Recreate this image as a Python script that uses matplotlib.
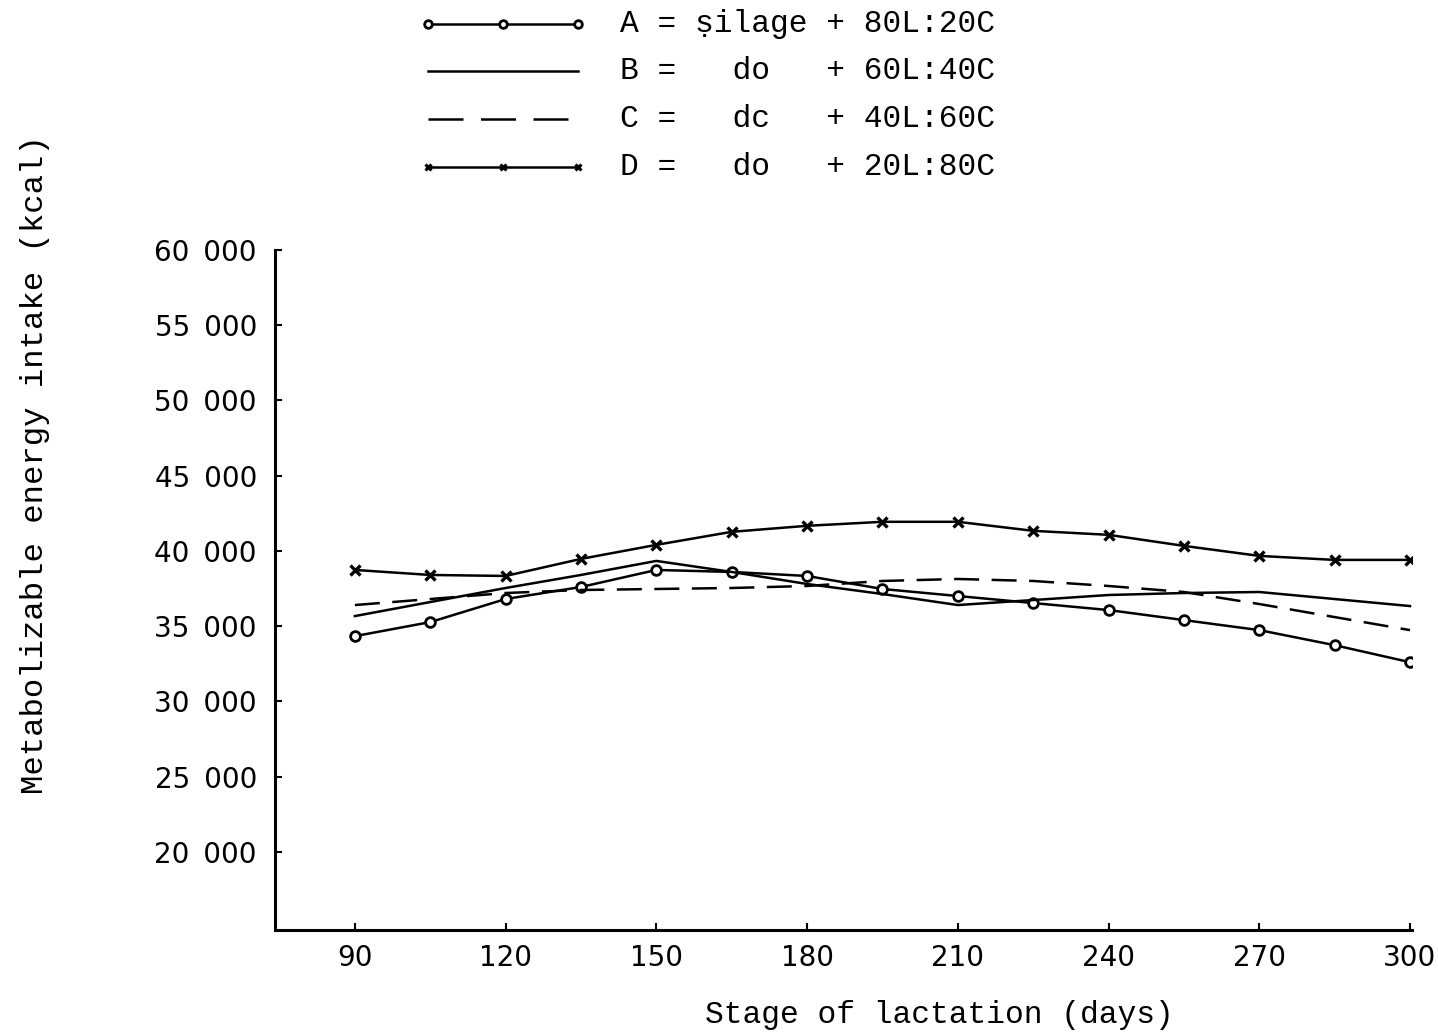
import matplotlib
matplotlib.use("Agg")
import matplotlib.pyplot as plt
from matplotlib.lines import Line2D

days = [90, 105, 120, 135, 150, 165, 180, 195, 210, 225, 240, 255, 270, 285, 300]
series_a = [34333, 35267, 36800, 37600, 38733, 38600, 38333, 37467, 37000, 36533, 36067, 35400, 34733, 33733, 32600]
series_b = [35667, 36600, 37533, 38400, 39333, 38600, 37800, 37133, 36400, 36733, 37067, 37200, 37267, 36800, 36333]
series_c = [36400, 36800, 37200, 37400, 37467, 37533, 37667, 38000, 38133, 38000, 37667, 37267, 36467, 35600, 34733]
series_d = [38733, 38400, 38333, 39467, 40400, 41267, 41667, 41933, 41933, 41333, 41067, 40333, 39667, 39400, 39400]

x_ticks = [90, 120, 150, 180, 210, 240, 270, 300]
y_ticks = [20000, 25000, 30000, 35000, 40000, 45000, 50000, 55000, 60000]
y_tick_labels = ["20\u2002000", "25\u2002000", "30\u2002000", "35\u2002000", "40\u2002000",
                 "45\u2002000", "50\u2002000", "55\u2002000", "60\u2002000"]
legend_texts = ["A = ṣilage + 80L:20C",
                "B =   do   + 60L:40C",
                "C =   dc   + 40L:60C",
                "D =   do   + 20L:80C"]

W, H = 1438, 1036
fig = plt.figure(figsize=(W / 100, H / 100), dpi=100)
ax = fig.add_axes([275 / W, 1 - 930 / H, (1412 - 275) / W, (930 - 250) / H])

lw = 1.8
ax.plot(days, series_a, color="black", lw=lw, marker="o", ms=7, mfc="white", mew=2)
ax.plot(days, series_b, color="black", lw=lw)
ax.plot(days, series_c, color="black", lw=lw, dashes=(10, 5))
ax.plot(days, series_d, color="black", lw=lw, marker="x", ms=7, mew=2.4)

ax.set_xlim(74.1, 300.4)
ax.set_ylim(14800, 60000)
for s in ["top", "right"]:
    ax.spines[s].set_visible(False)
for s in ["left", "bottom"]:
    ax.spines[s].set_linewidth(2.2)

mono = "Liberation Mono"
sans = "DejaVu Sans"
ax.set_xticks(x_ticks)
ax.set_xticklabels([str(v) for v in x_ticks], fontfamily=sans, fontsize=20)
ax.set_yticks(y_ticks)
ax.set_yticklabels(y_tick_labels, fontfamily=sans, fontsize=20)
ax.tick_params(axis="both", direction="in", length=5, width=1.5)
ax.tick_params(axis="y", pad=13)
ax.tick_params(axis="x", pad=10)

fig.text(939 / W, 1 - 1015 / H, "Stage of lactation (days)", ha="center", va="center",
         fontfamily=mono, fontsize=22.5)
fig.text(35 / W, 1 - 465 / H, "Metabolizable energy intake (kcal)", ha="center", va="center",
         rotation=90, fontfamily=mono, fontsize=23.3)

# Legend drawn manually
rows_y = [24, 71, 119, 167]
styles = [dict(marker="o", ms=5.5, mfc="white", mew=2, markevery=[0, 1, 2]),
          dict(),
          dict(dashes=(14, 7)),
          dict(marker="x", ms=5, mew=2.2, markevery=[0, 1, 2])]
for y, st, txt in zip(rows_y, styles, legend_texts):
    fy = 1 - y / H
    xs = [428 / W, 503 / W, 578 / W]
    ln = Line2D(xs, [fy] * 3, transform=fig.transFigure, color="black", lw=lw, **st)
    fig.add_artist(ln)
    fig.text(620 / W, fy, txt, ha="left", va="center", fontfamily=mono, fontsize=22.5)

fig.savefig("out.png", dpi=100, facecolor="white")
